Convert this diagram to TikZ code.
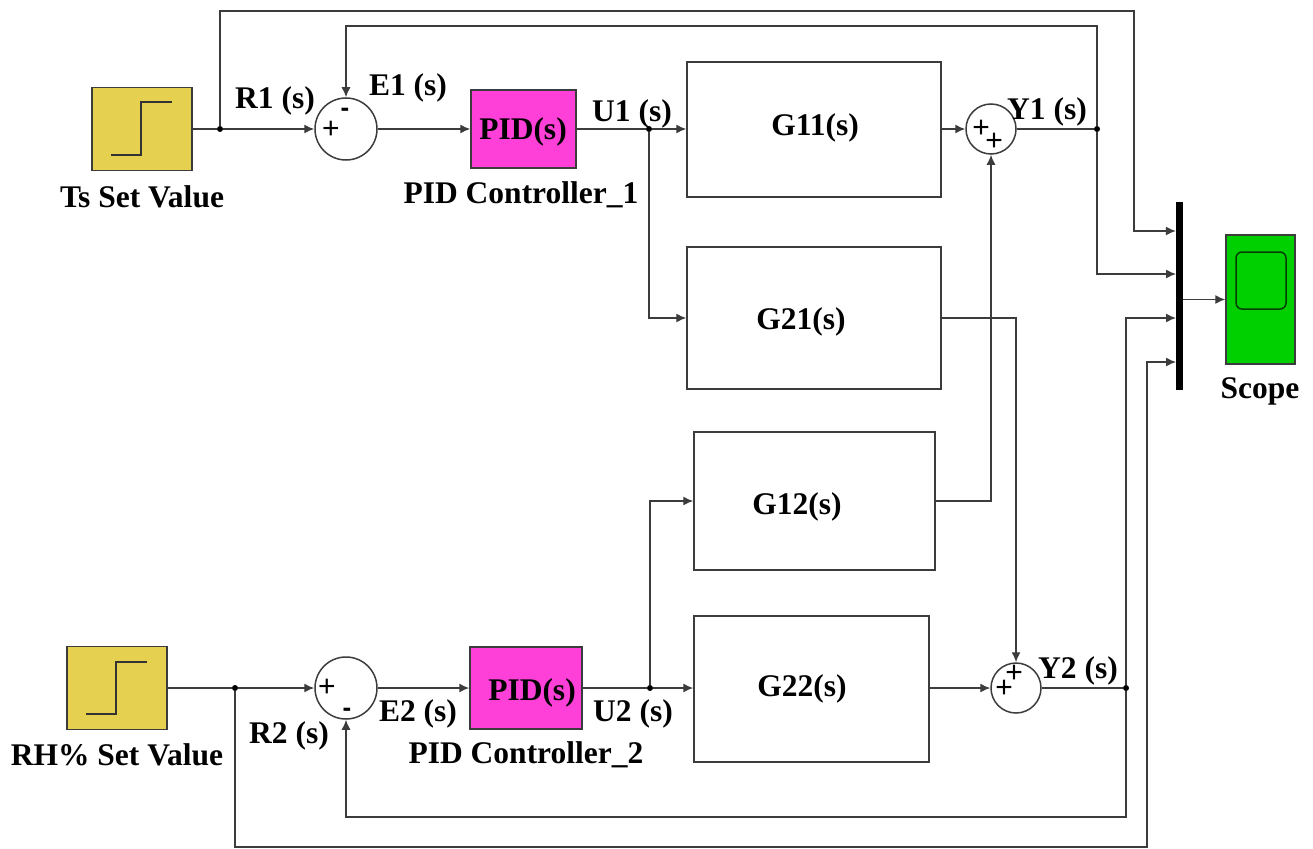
\documentclass[tikz,border=0pt]{standalone}
\usepackage{fontspec}
\setmainfont{Liberation Serif}
\newfontfamily\signfont{Liberation Sans}
\usetikzlibrary{arrows.meta}
\definecolor{stepcol}{HTML}{E6D050}
\definecolor{pidcol}{HTML}{FF40D8}
\definecolor{scopecol}{HTML}{00D000}
\definecolor{linecol}{HTML}{3C3C3C}
\tikzset{
  wire/.style={draw=linecol,line width=1.4pt},
  arrowwire/.style={wire,-{Latex[length=10pt,width=9pt]}},
  block/.style={draw=linecol,line width=1.5pt,fill=white,inner sep=0pt,rectangle},
  stepblock/.style={block,fill=stepcol,minimum width=100pt,minimum height=83pt},
  pidblock/.style={block,fill=pidcol},
  gblock/.style={block},
  sumblock/.style={draw=linecol,line width=1.5pt,circle,fill=white,inner sep=0pt},
  lbl/.style={font=\fontsize{31.5}{32}\bfseries,inner sep=0pt,text=black},
  sign/.style={font=\signfont\fontsize{30}{30}\selectfont,inner sep=0pt,text=black},
  minussign/.style={font=\signfont\fontsize{26}{26}\bfseries,inner sep=0pt,text=black},
  dot/.style={circle,fill=black,inner sep=0pt,minimum size=6pt},
  stepicon/.style={draw=black!80,line width=1.5pt}
}
\begin{document}
\begin{tikzpicture}[x=1pt,y=-1pt]
\useasboundingbox (0,0) rectangle (1313,848);
% blocks
\node[stepblock] (step1) at (142,129) {};
\node[stepblock] (step2) at (117,688) {};
\node[sumblock,minimum size=62pt] (sum1) at (346,129) {};
\node[sumblock,minimum size=62pt] (sum3) at (346,688) {};
\node[sumblock,minimum size=50pt] (sum2) at (991,129) {};
\node[sumblock,minimum size=50pt] (sum4) at (1016,688) {};
\node[pidblock,minimum width=105pt,minimum height=78pt] (pid1) at (523.5,129) {};
\node[pidblock,minimum width=112pt,minimum height=82pt] (pid2) at (526,688) {};
\node[gblock,minimum width=254pt,minimum height=135pt] (g11) at (814,129.5) {};
\node[gblock,minimum width=254pt,minimum height=142pt] (g21) at (814,318) {};
\node[gblock,minimum width=241pt,minimum height=138pt] (g12) at (814.5,501) {};
\node[gblock,minimum width=235pt,minimum height=146pt] (g22) at (811.5,689) {};
\node[rectangle,fill=black,inner sep=0pt,minimum width=7pt,minimum height=188pt] (mux) at (1179.5,296) {};
\node[block,fill=scopecol,minimum width=69pt,minimum height=129pt] (scope) at (1260.5,299.5) {};
\node[draw=black!70!scopecol,line width=1.5pt,rounded corners=6pt,inner sep=0pt,minimum width=50pt,minimum height=57pt] (screen) at (1261,280.5) {};
% block texts
\node[lbl] (pt1) at (523,132) {PID(s)};
\node[lbl] (pt2) at (532,693) {PID(s)};
\node[lbl] (t11) at (815,128) {G11(s)};
\node[lbl] (t21) at (801,322) {G21(s)};
\node[lbl] (t12) at (797,507) {G12(s)};
\node[lbl] (t22) at (802,689) {G22(s)};
% step icons
\draw[stepicon] (111,155) -- (141,155) -- (141,102) -- (172,102);
\draw[stepicon] (86,714) -- (116,714) -- (116,662) -- (147,662);
% signs
\node[sign] (p1) at (331,130) {+};
\node[minussign] (m1) at (345,112) {-};
\node[sign] (p3) at (327,688) {+};
\node[minussign] (m3) at (347,712) {-};
\node[sign] (p2a) at (981,129) {+};
\node[sign] (p2b) at (994,142) {+};
\node[sign] (p4a) at (1014,674) {+};
\node[sign] (p4b) at (1004,689) {+};
% junctions
\node[dot] (j1) at (220,129) {};
\node[dot] (j2) at (649,129) {};
\node[dot] (j3) at (1097,129) {};
\node[dot] (j4) at (235,688) {};
\node[dot] (j5) at (650,688) {};
\node[dot] (j6) at (1126,688) {};
% helper coordinates
\coordinate (a1) at (1134,11);
\coordinate (a2) at (1134,231);
\coordinate (b1) at (1097,26);
\coordinate (in1) at (mux.west |- a2);
\coordinate (y2) at (1176,274);
\coordinate (y3) at (1176,318);
\coordinate (y4) at (1176,362);
\coordinate (c1) at (1147,847);
\coordinate (d1) at (1126,817);
% wires top loop
\draw[wire] (step1.east) -- (j1);
\draw[arrowwire] (j1) -- (sum1.west);
\draw[arrowwire] (sum1.east) -- (pid1.west);
\draw[wire] (pid1.east) -- (j2);
\draw[arrowwire] (j2) -- (g11.west |- j2);
\draw[arrowwire] (j2) |- (g21.west);
\draw[arrowwire] (g11.east |- sum2) -- (sum2.west);
\draw[wire] (sum2.east) -- (j3);
\draw[arrowwire] (j1) |- (a1) -- (a2) -- (in1);
\draw[arrowwire] (j3) -- (b1) -| (sum1.north);
\draw[arrowwire] (j3) |- (y2);
% wires bottom loop
\draw[wire] (step2.east) -- (j4);
\draw[arrowwire] (j4) -- (sum3.west);
\draw[arrowwire] (sum3.east) -- (pid2.west);
\draw[wire] (pid2.east) -- (j5);
\draw[arrowwire] (j5) -- (g22.west |- j5);
\draw[arrowwire] (j5) |- (g12.west);
\draw[arrowwire] (g22.east |- sum4) -- (sum4.west);
\draw[wire] (sum4.east) -- (j6);
\draw[arrowwire] (j6) -- (d1) -| (sum3.south);
\draw[arrowwire] (j6) |- (y3);
\draw[arrowwire] (j4) |- (c1) |- (y4);
% cross couplings
\draw[arrowwire] (g21.east) -| (sum4.north);
\draw[arrowwire] (g12.east) -| (sum2.south);
% mux to scope
\draw[arrowwire] (mux.east |- scope.west) -- (scope.west);
% labels
\node[lbl] (lr1) at (275,101) {R1 (s)};
\node[lbl] (le1) at (408,88) {E1 (s)};
\node[lbl] (lu1) at (632,114) {U1 (s)};
\node[lbl] (ly1) at (1047,112) {Y1 (s)};
\node[lbl] (lts) at (142,197) {Ts Set Value};
\node[lbl] (lp1) at (521,195) {PID Controller\_1};
\node[lbl] (ly2) at (1078,671) {Y2 (s)};
\node[lbl] (le2) at (418,714) {E2 (s)};
\node[lbl] (lu2) at (633,714) {U2 (s)};
\node[lbl] (lr2) at (289,736) {R2 (s)};
\node[lbl] (lrh) at (117,755) {RH\% Set Value};
\node[lbl] (lp2) at (526,755) {PID Controller\_2};
\node[lbl] (lsc) at (1260,391) {Scope};
\end{tikzpicture}
\end{document}
